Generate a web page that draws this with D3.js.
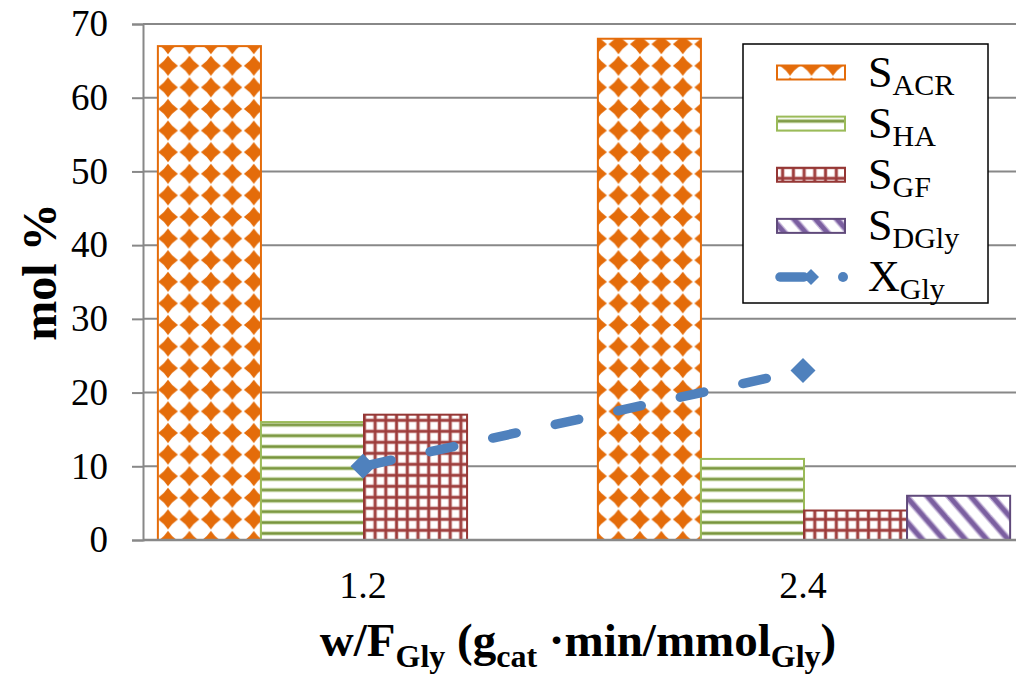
<!DOCTYPE html>
<html><head><meta charset="utf-8">
<script src="https://cdn.jsdelivr.net/npm/d3@7"></script>
<style>body{margin:0;background:#fff}</style>
</head><body><svg id="c" width="1016" height="677"></svg>
<script>
// ---- data ----
const categories = ["1.2", "2.4"];
const seriesKeys = ["ACR", "HA", "GF", "DGly"];
const S_ACR = [67, 68];
const S_HA = [16, 11];
const S_GF = [17, 4];
const S_DGly = [0, 6];
const X_Gly = [10, 23];
const yTicks = [0, 10, 20, 30, 40, 50, 60, 70];
const legendMain = ["S", "S", "S", "S", "X"];
const legendSub = ["ACR", "HA", "GF", "DGly", "Gly"];

const seriesValues = { ACR: S_ACR, HA: S_HA, GF: S_GF, DGly: S_DGly };

// ---- styles ----
const FONT = "'Liberation Serif','Times New Roman',serif";
const border = { ACR: "#E46C0A", HA: "#9BBB59", GF: "#953735", DGly: "#604A7B" };
const lineColor = "#4F81BD";
const gridColor = "#888888";

const svg = d3.select("#c");
const W = 1016, H = 677;
const plot = { left: 143, right: 1023, top: 24, bottom: 540 };

const y = d3.scaleLinear().domain([0, 70]).range([plot.bottom, plot.top]);
const x0 = d3.scaleBand().domain(categories).range([plot.left, plot.right]).padding(0);
const x1 = d3.scaleBand().domain(seriesKeys).range([2, x0.bandwidth()]).paddingInner(0).paddingOuter(0.125);

// ---- patterns ----
const defs = svg.append("defs");
// ACR: orange diamonds on white
{
  const pw = 21.45, ph = 21.6;
  const p = defs.append("pattern").attr("id", "pACR").attr("patternUnits", "userSpaceOnUse")
    .attr("width", pw).attr("height", ph).attr("x", 168 - pw / 2).attr("y", 433 - ph / 2);
  p.append("rect").attr("width", pw).attr("height", ph).attr("fill", "#fff");
  const cx = pw / 2, cy = ph / 2, a = 9.9, b = 10.1, c = 4.0;
  p.append("path").attr("fill", "#E46C0A")
    .attr("d", `M${cx},${cy - b} Q${cx + c},${cy - c} ${cx + a},${cy} Q${cx + c},${cy + c} ${cx},${cy + b} Q${cx - c},${cy + c} ${cx - a},${cy} Q${cx - c},${cy - c} ${cx},${cy - b}Z`);
}
// HA: horizontal green lines
{
  const ph = 10.85;
  const p = defs.append("pattern").attr("id", "pHA").attr("patternUnits", "userSpaceOnUse")
    .attr("width", 20).attr("height", ph).attr("x", 0).attr("y", 490 - ph / 2);
  p.append("rect").attr("width", 20).attr("height", ph).attr("fill", "#fff");
  p.append("rect").attr("y", ph / 2 - 1.9).attr("width", 20).attr("height", 3.8).attr("fill", "#B9CF8F");
  p.append("rect").attr("y", ph / 2 - 1.1).attr("width", 20).attr("height", 2.2).attr("fill", "#77933C");
}
// GF: red grid
{
  const pw = 10.725, ph = 11;
  const p = defs.append("pattern").attr("id", "pGF").attr("patternUnits", "userSpaceOnUse")
    .attr("width", pw).attr("height", ph).attr("x", 418 - pw / 2).attr("y", 475.3 - ph / 2);
  p.append("rect").attr("width", pw).attr("height", ph).attr("fill", "#fff");
  p.append("rect").attr("x", pw / 2 - 1.8).attr("width", 3.6).attr("height", ph).attr("fill", "#C98786");
  p.append("rect").attr("y", ph / 2 - 1.8).attr("width", pw).attr("height", 3.6).attr("fill", "#C98786");
  p.append("rect").attr("x", pw / 2 - 1.1).attr("width", 2.2).attr("height", ph).attr("fill", "#9B3B3A");
  p.append("rect").attr("y", ph / 2 - 1.1).attr("width", pw).attr("height", 2.2).attr("fill", "#9B3B3A");
}
// DGly: purple diagonal stripes
{
  const pw = 21.5, s = 1.15, ph = pw * s;
  const p = defs.append("pattern").attr("id", "pDGly").attr("patternUnits", "userSpaceOnUse")
    .attr("width", pw).attr("height", ph).attr("x", 905).attr("y", 495);
  p.append("rect").attr("width", pw).attr("height", ph).attr("fill", "#fff");
  [-pw, 0, pw].forEach(off => {
    p.append("line").attr("x1", off - pw).attr("y1", -ph).attr("x2", off + 2 * pw).attr("y2", 2 * ph)
      .attr("stroke", "#C4B4D8").attr("stroke-width", 7.2);
  });
  [-pw, 0, pw].forEach(off => {
    p.append("line").attr("x1", off - pw).attr("y1", -ph).attr("x2", off + 2 * pw).attr("y2", 2 * ph)
      .attr("stroke", "#7B5FA0").attr("stroke-width", 4.6);
  });
}

// ---- gridlines ----
svg.append("g").selectAll("line").data(yTicks.filter(d => d > 0)).join("line")
  .attr("x1", plot.left).attr("x2", W).attr("y1", d => y(d)).attr("y2", d => y(d))
  .attr("stroke", gridColor).attr("stroke-width", 2);

// ---- bars ----
const barData = [];
categories.forEach((c, i) => seriesKeys.forEach(k => {
  const v = seriesValues[k][i];
  if (v > 0) barData.push({ c, k, v });
}));
svg.append("g").selectAll("rect").data(barData).join("rect")
  .attr("x", d => x0(d.c) + x1(d.k))
  .attr("width", x1.bandwidth())
  .attr("y", d => y(d.v))
  .attr("height", d => y(0) - y(d.v))
  .attr("fill", d => `url(#p${d.k})`)
  .attr("stroke", d => border[d.k])
  .attr("stroke-width", 2);

// ---- axes ----
const yAxis = d3.axisLeft(y).tickValues(yTicks).tickSize(11).tickPadding(24).tickFormat(d3.format("d"));
const gy = svg.append("g").attr("transform", `translate(${plot.left},0)`).call(yAxis);
gy.select(".domain").attr("stroke", gridColor).attr("stroke-width", 2);
gy.selectAll(".tick line").attr("stroke", gridColor).attr("stroke-width", 2);
gy.selectAll(".tick text").attr("font-family", FONT).attr("font-size", 37).attr("fill", "#000");

const xAxis = d3.axisBottom(x0).tickSize(0).tickPadding(31);
const gx = svg.append("g").attr("transform", `translate(0,${plot.bottom})`).call(xAxis);
gx.select(".domain").attr("stroke", gridColor).attr("stroke-width", 2.5).attr("d", `M${plot.left},0H${W}`);
gx.selectAll(".tick text").attr("font-family", FONT).attr("font-size", 38).attr("fill", "#000");

// ---- conversion line ----
const pts = categories.map((c, i) => [x0(c) + x0.bandwidth() / 2, y(X_Gly[i])]);
svg.append("path").attr("d", d3.line()(pts)).attr("fill", "none")
  .attr("stroke", lineColor).attr("stroke-width", 9.5).attr("stroke-linecap", "round")
  .attr("stroke-dasharray", "24,40").attr("stroke-dashoffset", -4.75);
const diamond = (r) => `M0,${-r}L${r},0L0,${r}L${-r},0Z`;
svg.append("g").selectAll("path").data(pts).join("path")
  .attr("transform", d => `translate(${d[0]},${d[1]})`)
  .attr("d", diamond(12.5)).attr("fill", lineColor);

// ---- axis titles ----
svg.append("text").attr("transform", "translate(56,272) rotate(-90)")
  .attr("text-anchor", "middle").attr("font-family", FONT).attr("font-weight", "bold")
  .attr("font-size", 48).text("mol %");

const xt = svg.append("text").attr("x", 578).attr("y", 656).attr("text-anchor", "middle")
  .attr("font-family", FONT).attr("font-weight", "bold").attr("font-size", 47);
const parts = [["w/F", 0], ["Gly", 1], [" (g", 0], ["cat", 1], [" ·min/mmol", 0], ["Gly", 1], [")", 0]];
let prevSub = false;
parts.forEach(([t, sub]) => {
  const ts = xt.append("tspan").text(t);
  if (sub) { ts.attr("font-size", 32).attr("dy", prevSub ? 0 : 11); }
  else if (prevSub) { ts.attr("dy", -11); }
  prevSub = !!sub;
});

// ---- legend ----
const lg = svg.append("g");
lg.append("rect").attr("x", 743).attr("y", 44).attr("width", 245).attr("height", 259)
  .attr("fill", "#fff").attr("stroke", "#000").attr("stroke-width", 1.5);
const ly = d3.scalePoint().domain(d3.range(legendMain.length)).range([72.5, 277]);
seriesKeys.forEach((k, i) => {
  lg.append("rect").attr("x", 777).attr("y", ly(i) - 7).attr("width", 68).attr("height", 14)
    .attr("fill", `url(#p${k})`).attr("stroke", border[k]).attr("stroke-width", 2);
});
{
  const yy = ly(4);
  lg.append("line").attr("x1", 780).attr("x2", 804).attr("y1", yy).attr("y2", yy)
    .attr("stroke", lineColor).attr("stroke-width", 9.5).attr("stroke-linecap", "round");
  lg.append("path").attr("transform", `translate(811,${yy})`).attr("d", diamond(8)).attr("fill", lineColor);
  lg.append("circle").attr("cx", 843).attr("cy", yy).attr("r", 5).attr("fill", lineColor);
}
legendMain.forEach((m, i) => {
  const t = lg.append("text").attr("x", 868).attr("y", ly(i) + 14).attr("font-family", FONT).attr("font-size", 44);
  t.append("tspan").text(m);
  t.append("tspan").attr("font-size", 30).attr("dy", 8).text(legendSub[i]);
});
</script></body></html>
